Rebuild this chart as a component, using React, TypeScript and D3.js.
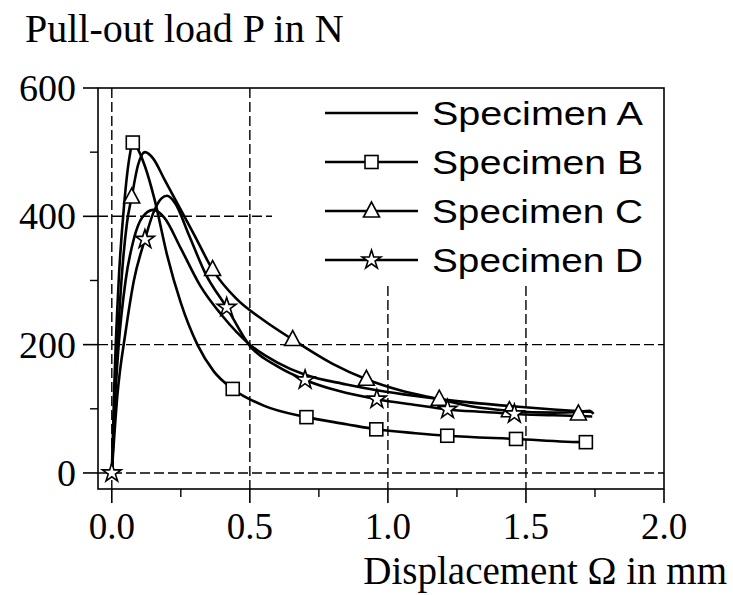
import React from "react";
import * as d3 from "d3";

type Pt = [number, number];

// Displacement (mm), load (N)
const seriesA: Pt[] = [
  [0, 0], [0.01, 100], [0.025, 200], [0.05, 300], [0.08, 365], [0.11, 398], [0.15, 410],
  [0.19, 398], [0.25, 350], [0.32, 292], [0.4, 245], [0.5, 200], [0.6, 172], [0.7, 153],
  [0.85, 138], [0.96, 129], [1.1, 120], [1.25, 112], [1.45, 104], [1.6, 99], [1.74, 95],
];
const seriesB: Pt[] = [
  [0, 0], [0.01, 150], [0.025, 300], [0.045, 420], [0.065, 495], [0.076, 515], [0.09, 508],
  [0.12, 478], [0.155, 426], [0.2, 340], [0.25, 265], [0.31, 200], [0.37, 158], [0.438, 131],
  [0.55, 105], [0.705, 87], [0.85, 76], [0.958, 68], [1.1, 62], [1.215, 58], [1.464, 53], [1.717, 48],
  [1.74, 48],
];
const seriesC: Pt[] = [
  [0, 0], [0.015, 150], [0.035, 300], [0.055, 390], [0.072, 430], [0.095, 480], [0.12, 500],
  [0.15, 490], [0.19, 458], [0.23, 426], [0.3, 370], [0.365, 317], [0.45, 272], [0.55, 238],
  [0.655, 208], [0.8, 170], [0.922, 146], [1.05, 128], [1.186, 115], [1.3, 104], [1.44, 97],
  [1.6, 94], [1.69, 95], [1.73, 97], [1.745, 92],
];
const seriesD: Pt[] = [
  [0, 0], [0.02, 120], [0.05, 220], [0.08, 300], [0.12, 364], [0.15, 405], [0.18, 428],
  [0.2, 432], [0.23, 420], [0.28, 370], [0.34, 310], [0.416, 258], [0.5, 198], [0.6, 166],
  [0.7, 145], [0.82, 128], [0.96, 115], [1.1, 106], [1.216, 99], [1.35, 95], [1.458, 92],
  [1.6, 90], [1.74, 88],
];

const markersB: Pt[] = [[0.076, 515], [0.438, 131], [0.705, 87], [0.958, 68], [1.215, 58], [1.464, 53], [1.717, 48]];
const markersC: Pt[] = [[0.072, 430], [0.365, 317], [0.655, 208], [0.922, 146], [1.186, 115], [1.44, 97], [1.69, 92]];
const markersD: Pt[] = [[0, 0], [0.12, 364], [0.416, 258], [0.7, 145], [0.96, 115], [1.216, 99], [1.458, 92]];

const legendLabels = ["Specimen A", "Specimen B", "Specimen C", "Specimen D"];
const legendMarkers = ["none", "square", "triangle", "star"];
const xTicks = [0, 0.5, 1.0, 1.5, 2.0];
const xMinorTicks = [0.25, 0.75, 1.25, 1.75];
const yTicks = [0, 200, 400, 600];
const yMinorTicks = [100, 300, 500];

const SERIF = "'Liberation Serif', 'Times New Roman', Times, serif";
const SANS = "'Liberation Sans', Arial, Helvetica, sans-serif";

function Marker({ kind, x, y }: { kind: string; x: number; y: number }) {
  if (kind === "square") {
    return <rect x={x - 6.5} y={y - 6.5} width={13} height={13} fill="#fff" stroke="#000" strokeWidth={1.6} />;
  }
  if (kind === "triangle") {
    const p = `${x},${y - 9} ${x - 8},${y + 6} ${x + 8},${y + 6}`;
    return <polygon points={p} fill="#fff" stroke="#000" strokeWidth={1.6} />;
  }
  if (kind === "star") {
    const path = d3.symbol().type(d3.symbolStar).size(110)();
    return <path d={path || ""} transform={`translate(${x},${y})`} fill="#fff" stroke="#000" strokeWidth={1.6} />;
  }
  return null;
}

export default function App() {
  const W = 733, H = 595;
  const left = 98, right = 664, top = 88, bottom = 489;
  const x = d3.scaleLinear().domain([-0.05, 2.0]).range([left, right]);
  const y = d3.scaleLinear().domain([-25, 600]).range([bottom, top]);
  const line = d3.line<Pt>().x((d) => x(d[0])).y((d) => y(d[1])).curve(d3.curveMonotoneX);

  const dash = "10,4";
  const legendX0 = 325, legendX1 = 418, legendTextX = 432;
  const legendRows = [113, 162, 211, 260];

  return (
    <svg width={W} height={H} style={{ position: "absolute", left: 0, top: 0, background: "#fff" }}>
      <rect x={0} y={0} width={W} height={H} fill="#fff" />
      {/* grid lines */}
      {[0, 0.5].map((v) => (
        <line key={"gv" + v} x1={x(v)} x2={x(v)} y1={top} y2={bottom} stroke="#000" strokeWidth={1.4} strokeDasharray={dash} />
      ))}
      {[1.0, 1.5].map((v) => (
        <line key={"gv2" + v} x1={x(v)} x2={x(v)} y1={286} y2={bottom} stroke="#000" strokeWidth={1.4} strokeDasharray={dash} />
      ))}
      {[0, 200].map((v) => (
        <line key={"gh" + v} x1={left} x2={right} y1={y(v)} y2={y(v)} stroke="#000" strokeWidth={1.4} strokeDasharray={dash} />
      ))}
      <line x1={left} x2={272} y1={y(400)} y2={y(400)} stroke="#000" strokeWidth={1.4} strokeDasharray={dash} />

      {/* frame */}
      <rect x={left} y={top} width={right - left} height={bottom - top} fill="none" stroke="#000" strokeWidth={1.6} />

      {/* y ticks */}
      {yTicks.map((v) => (
        <g key={"yt" + v}>
          <line x1={83} x2={left} y1={y(v)} y2={y(v)} stroke="#000" strokeWidth={1.6} />
          <text x={76} y={y(v)} dy="0.34em" textAnchor="end" fontFamily={SERIF} fontSize={38}>{String(v)}</text>
        </g>
      ))}
      {yMinorTicks.map((v) => (
        <line key={"ym" + v} x1={90} x2={left} y1={y(v)} y2={y(v)} stroke="#000" strokeWidth={1.4} />
      ))}
      {/* x ticks */}
      {xTicks.map((v) => (
        <g key={"xt" + v}>
          <line x1={x(v)} x2={x(v)} y1={bottom} y2={bottom + 14} stroke="#000" strokeWidth={1.6} />
          <text x={x(v)} y={539} textAnchor="middle" fontFamily={SERIF} fontSize={37}>{v.toFixed(1)}</text>
        </g>
      ))}
      {xMinorTicks.map((v) => (
        <line key={"xm" + v} x1={x(v)} x2={x(v)} y1={bottom} y2={bottom + 8} stroke="#000" strokeWidth={1.4} />
      ))}

      {/* axis titles */}
      <text x={25} y={42} fontFamily={SERIF} fontSize={40}>Pull-out load P in N</text>
      <text x={727} y={584} textAnchor="end" fontFamily={SERIF} fontSize={39}>Displacement Ω in mm</text>

      {/* curves */}
      {[seriesA, seriesB, seriesC, seriesD].map((s, i) => (
        <path key={"s" + i} d={line(s) || ""} fill="none" stroke="#000" strokeWidth={2.6} strokeLinejoin="round" />
      ))}
      {markersB.map((d, i) => <Marker key={"mb" + i} kind="square" x={x(d[0])} y={y(d[1])} />)}
      {markersC.map((d, i) => <Marker key={"mc" + i} kind="triangle" x={x(d[0])} y={y(d[1])} />)}
      {markersD.map((d, i) => <Marker key={"md" + i} kind="star" x={x(d[0])} y={y(d[1])} />)}

      {/* legend */}
      {legendLabels.map((lab, i) => (
        <g key={"lg" + i}>
          <line x1={legendX0} x2={legendX1} y1={legendRows[i]} y2={legendRows[i]} stroke="#000" strokeWidth={2.6} />
          <Marker kind={legendMarkers[i]} x={(legendX0 + legendX1) / 2} y={legendRows[i]} />
          <text x={legendTextX} y={legendRows[i] + 12} fontFamily={SANS} fontSize={33} textLength={211} lengthAdjust="spacingAndGlyphs">{lab}</text>
        </g>
      ))}
    </svg>
  );
}
